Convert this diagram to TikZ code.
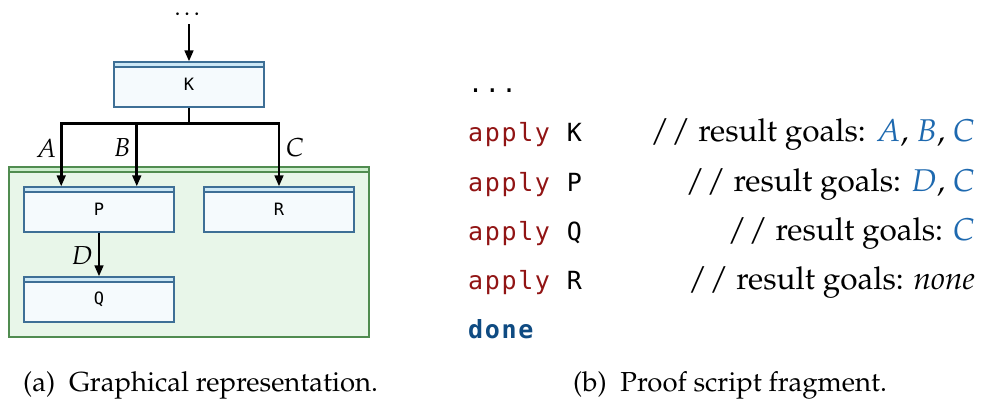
\documentclass[tikz,border=0pt]{standalone}
\usepackage[T1]{fontenc}
\usepackage{mathpazo}
\usepackage{fontspec}
\usetikzlibrary{arrows.meta,calc}

% code font: fixed columns, slightly wider than the glyphs
\newfontfamily\codefam[LetterSpace=6.6]{DejaVu Sans Mono}
\newfontfamily\blockfam{DejaVu Sans Mono}
% Palatino text in T1 encoding
\newcommand\pal{\fontencoding{T1}\fontfamily{ppl}\selectfont}

\definecolor{boxline}{RGB}{62,111,150}
\definecolor{boxfill}{RGB}{245,250,253}
\definecolor{boxstripe}{RGB}{205,232,246}
\definecolor{areafill}{RGB}{232,246,233}
\definecolor{arealine}{RGB}{80,140,80}
\definecolor{areastripe}{RGB}{205,238,205}
\definecolor{kwred}{RGB}{145,20,20}
\definecolor{goalblue}{RGB}{30,105,175}
\definecolor{doneblue}{RGB}{15,75,130}

\newcommand\kw[1]{\textcolor{kwred}{#1}}
\newcommand\goal[1]{\textcolor{goalblue}{$#1$}}

\tikzset{
  ruleblock/.style={draw=boxline, fill=boxfill, line width=1.1pt,
    minimum width=150pt, minimum height=45pt, inner sep=0pt,
    font=\blockfam\fontsize{17}{20}\selectfont,
    path picture={
      \fill[boxstripe] (path picture bounding box.north west) rectangle
        ([yshift=-5pt]path picture bounding box.north east);
      \draw[boxline, line width=1.1pt]
        ([yshift=-5pt]path picture bounding box.north west) --
        ([yshift=-5pt]path picture bounding box.north east);}},
  goalarea/.style={draw=arealine, fill=areafill, line width=1.1pt,
    minimum width=360pt, minimum height=170pt, inner sep=0pt,
    path picture={
      \fill[areastripe] (path picture bounding box.north west) rectangle
        ([yshift=-5pt]path picture bounding box.north east);
      \draw[arealine, line width=1.1pt]
        ([yshift=-5pt]path picture bounding box.north west) --
        ([yshift=-5pt]path picture bounding box.north east);}},
  flow/.style={line width=2.7pt, -{Triangle[width=8.5pt,length=11pt]}},
  flowline/.style={line width=2.7pt},
  goallabel/.style={inner sep=0pt, font=\pal\fontsize{26}{30}\selectfont},
  codeline/.style={inner sep=0pt, anchor=base west, font=\codefam\fontsize{25}{28}\selectfont},
  remark/.style={inner sep=0pt, anchor=base east, font=\pal\fontsize{31.5}{34}\selectfont},
  caption/.style={inner sep=0pt, anchor=base west, font=\pal\fontsize{27.5}{30}\selectfont},
}

\begin{document}
\begin{tikzpicture}[x=1pt,y=-1pt]
\useasboundingbox (0,0) rectangle (982,401);

% ---- graph of rule applications ----
\node[goalarea] (area) at (189,252) {};

\node[inner sep=0pt, anchor=base, font=\pal\fontsize{24}{28}\selectfont] (dots) at (189,16) {\ldots};
\node[ruleblock] (K) at (189,84.5) {\raisebox{-3pt}{K}};
\node[ruleblock] (P) at (99,209.5) {\raisebox{-3pt}{P}};
\node[ruleblock] (R) at (279,209.5) {\raisebox{-3pt}{R}};
\node[ruleblock] (Q) at (99,299.5) {\raisebox{-3pt}{Q}};

\coordinate (split) at ($(K.south)+(0,16)$);
\coordinate (inA) at ($(P.north west)!0.25!(P.north east)$);
\coordinate (inB) at ($(P.north west)!0.75!(P.north east)$);

\draw[flow, shorten <=8pt] (dots.south -| K.north) -- (K.north);
\draw[flowline] (K.south) -- (split);
\draw[flow] (split) -| (inA);
\draw[flow] (split) -| (inB);
\draw[flow] (split) -| (R.north);
\draw[flow] (P.south) -- (Q.north);

\node[goallabel] (labA) at (46,148) {$A$};
\node[goallabel] (labB) at (122,148) {$B$};
\node[goallabel] (labC) at (295,148) {$C$};
\node[goallabel] (labD) at (82,256) {$D$};

% ---- proof script ----
\node[codeline] (l0) at (468,93) {...};
\node[codeline] (l1) at (468,142) {\kw{apply} K};
\node[codeline] (l2) at (468,191) {\kw{apply} P};
\node[codeline] (l3) at (468,240) {\kw{apply} Q};
\node[codeline] (l4) at (468,289) {\kw{apply} R};
\node[codeline] (l5) at (468,338) {\textcolor{doneblue}{\bfseries done}};

\node[remark] (c1) at (975,142) {/\kern2pt/ result goals: \goal{A}, \goal{B}, \goal{C}};
\node[remark] (c2) at (975,191) {/\kern2pt/ result goals: \goal{D}, \goal{C}};
\node[remark] (c3) at (975,240) {/\kern2pt/ result goals: \goal{C}};
\node[remark] (c4) at (975,289) {/\kern2pt/ result goals: \textit{none}};

% ---- captions ----
\node[caption] (capA) at (23,391) {(a)\enspace Graphical representation.};
\node[caption] (capB) at (573,391) {(b)\enspace Proof script fragment.};
\end{tikzpicture}
\end{document}
